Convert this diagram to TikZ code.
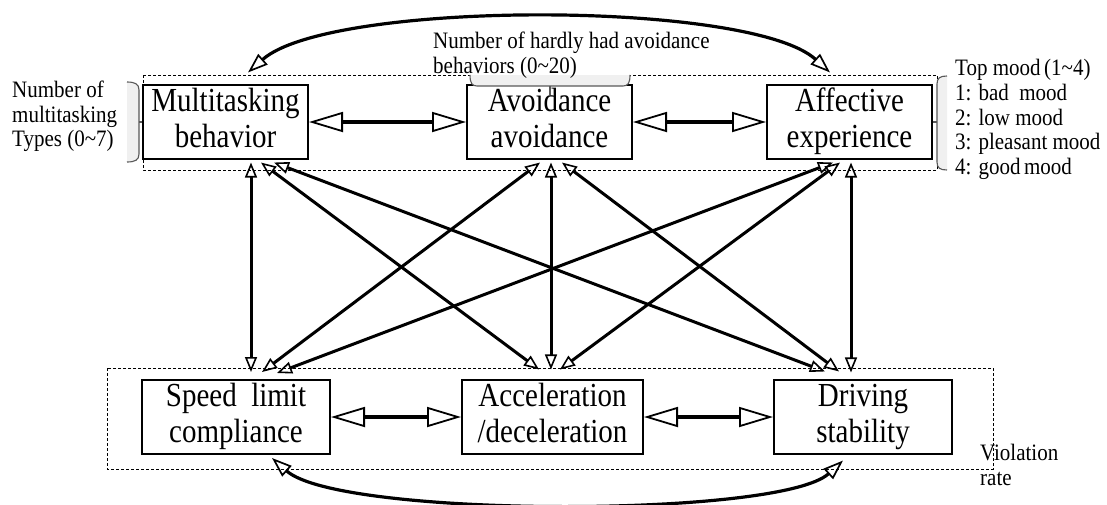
\documentclass[tikz,border=0pt]{standalone}
\usepackage{fontspec}
\usepackage{graphicx}
\setmainfont{Liberation Serif}
\usetikzlibrary{arrows.meta,calc}
\newcommand\vstr[1]{\scalebox{1}[1.16]{\begin{tabular}{@{}c@{}}#1\end{tabular}}}
\newcommand\vstl[1]{\scalebox{1}[1.12]{\begin{tabular}{@{}l@{}}#1\end{tabular}}}
\begin{document}
\begin{tikzpicture}[x=1pt,y=-1pt,
  box/.style={draw, line width=2pt, inner sep=0pt, align=center,
    font=\fontsize{29}{31.5}\selectfont},
  side/.style={inner sep=0pt, align=left, font=\fontsize{21}{22.3}\selectfont},
  dd/.style={line width=3pt,
    {Triangle[open,length=15pt,width=12pt,line width=1.6pt]}-{Triangle[open,length=15pt,width=12pt,line width=1.6pt]}},
  hh/.style={line width=4pt,
    {Triangle[open,length=34pt,width=20pt,line width=1.8pt]}-{Triangle[open,length=34pt,width=20pt,line width=1.8pt]}},
  cc/.style={line width=3.2pt,
    {Triangle[open,length=20pt,width=14pt,line width=1.7pt]}-{Triangle[open,length=20pt,width=14pt,line width=1.7pt]}},
  grp/.style={line width=1pt, dash pattern=on 3pt off 2pt},
  brk/.style={draw=gray!70!black, line width=1.1pt},
  brkfill/.style={fill=gray!12}]
\useasboundingbox (0,0) rectangle (1107,504);
\fill[white] (0,0) rectangle (1107,504);

% group frames
\draw[grp] (143,75) rectangle (937,170);
\draw[grp] (107,368) rectangle (993,469);

% boxes
\node[box, minimum width=165pt, minimum height=70pt, fill=white] (mt) at (225.5,122) {\vstr{Multitasking\\behavior}};
\node[box, minimum width=165pt, minimum height=70pt, fill=white] (av) at (549.5,122) {\vstr{Avoidance\\avoidance}};
\node[box, minimum width=165pt, minimum height=70pt, fill=white] (af) at (849.5,122) {\vstr{Affective\\experience}};
\node[box, minimum width=188pt, minimum height=74pt, fill=white] (sp) at (236,417) {\vstr{Speed\ \ limit\\compliance}};
\node[box, minimum width=181pt, minimum height=68pt, fill=white] (ac) at (552.5,417) {\vstr{Acceleration\\/deceleration}};
\node[box, minimum width=178pt, minimum height=70pt, fill=white] (dr) at (863,417) {\vstr{Driving\\stability}};

% horizontal arrows
\draw[hh] (mt.east) -- (av.west);
\draw[hh] (av.east) -- (af.west);
\draw[hh] (sp.east) -- (ac.west);
\draw[hh] (ac.east) -- (dr.west);

% cross connections
\draw[dd] ($(mt.south west)+(109,3)$) -- ($(sp.north west)+(110,-7)$);
\draw[dd] ($(mt.south west)+(119,3)$) -- ($(ac.north west)+(78,-10)$);
\draw[dd] ($(mt.south west)+(132,3)$) -- ($(dr.north west)+(52,-8)$);
\draw[dd] ($(av.south west)+(74,3)$) -- ($(sp.north west)+(121,-7)$);
\draw[dd] ($(av.south west)+(85,3)$) -- ($(ac.north west)+(90,-10)$);
\draw[dd] ($(av.south west)+(96,3)$) -- ($(dr.north west)+(66,-8)$);
\draw[dd] ($(af.south west)+(67,3)$) -- ($(sp.north west)+(136,-6)$);
\draw[dd] ($(af.south west)+(74,3)$) -- ($(ac.north west)+(99,-10)$);
\draw[dd] ($(af.south west)+(85,3)$) -- ($(dr.north west)+(78,-7)$);

% curved arrows
\coordinate (tl) at ($(mt.north)+(22.5,-12)$);
\coordinate (tr) at ($(af.north)+(-19.5,-12)$);
\coordinate (bl) at ($(sp.south)+(36,3)$);
\coordinate (br) at ($(dr.south)+(-20,6)$);
\draw[cc] (tl) .. controls (330,0) and (750,0) .. (tr);
\draw[cc] (bl) .. controls (340,518) and (780,518) .. (br);

% brackets
\fill[brkfill] (127,82) .. controls (135,82) and (139,84) .. (139,90) -- (139,154) .. controls (139,160) and (135,162) .. (127,162) -- cycle;
\draw[brk] (127,82) .. controls (135,82) and (139,84) .. (139,90) -- (139,154) .. controls (139,160) and (135,162) .. (127,162);
\draw[brk] (139,122) -- (mt.west);

\fill[brkfill] (470,75) .. controls (470,83) and (472,86) .. (477,86) -- (623,86) .. controls (628,86) and (630,83) .. (630,75) -- cycle;
\draw[brk] (470,75) .. controls (470,83) and (472,86) .. (477,86) -- (623,86) .. controls (628,86) and (630,83) .. (630,75);
\draw[brk] (550,86) -- (550,95);

\fill[brkfill] (947,76) .. controls (940,76) and (937,78) .. (937,84) -- (937,162) .. controls (937,168) and (940,170) .. (947,170) -- cycle;
\draw[brk] (947,76) .. controls (940,76) and (937,78) .. (937,84) -- (937,162) .. controls (937,168) and (940,170) .. (947,170);
\draw[brk] (937,122) -- (af.east);

% side texts
\node[side, anchor=west] (lt) at (12,117) {\vstl{Number of\\multitasking\\Types (0\textasciitilde7)}};
\node[side, anchor=west] (tt) at (433,56) {\vstl{Number of hardly had avoidance\\behaviors (0\textasciitilde20)}};
\node[side, anchor=west] (rt) at (955,120) {\vstl{Top mood\,(1\textasciitilde4)\\1: bad\ \ mood\\2: low mood\\3: pleasant mood\\4: good\,mood}};
\node[side, anchor=west] (vr) at (980,468) {\vstl{Violation\\rate}};
\end{tikzpicture}
\end{document}
